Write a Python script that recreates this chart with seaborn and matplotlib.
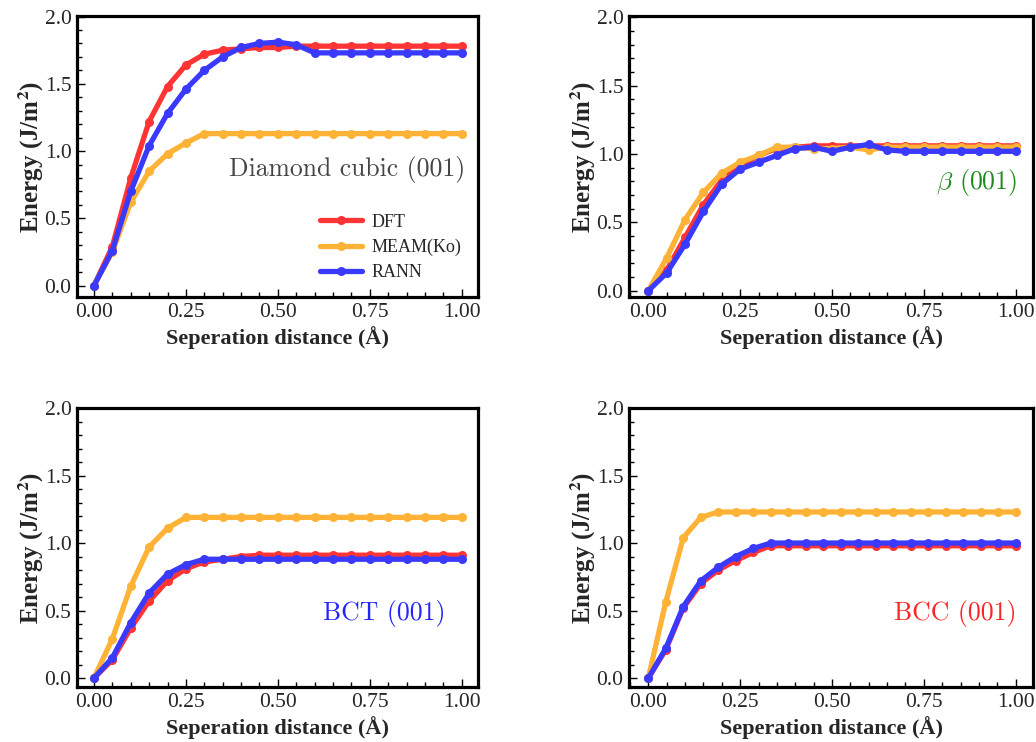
import numpy as np
import pandas as pd
import matplotlib
matplotlib.use("Agg")
import matplotlib.pyplot as plt
import seaborn as sns
from matplotlib.ticker import MultipleLocator, FormatStrFormatter

sns.set_theme(style="white")
plt.rcParams['font.family'] = ['Liberation Serif', 'DejaVu Serif']

# ---------------- data ----------------
models = ["DFT", "MEAM(Ko)", "RANN"]
colors = {"DFT": "#ff3434", "MEAM(Ko)": "#ffb336", "RANN": "#3a3aff"}

x21 = np.linspace(0, 1, 21)
x22 = np.linspace(0, 1, 22)

dc_dft = [0.00, 0.29, 0.80, 1.22, 1.48, 1.64, 1.72, 1.75, 1.76, 1.77, 1.77,
          1.78, 1.78, 1.78, 1.78, 1.78, 1.78, 1.78, 1.78, 1.78, 1.78]
dc_meam = [0.00, 0.25, 0.62, 0.85, 0.98, 1.06, 1.13, 1.13, 1.13, 1.13, 1.13,
           1.13, 1.13, 1.13, 1.13, 1.13, 1.13, 1.13, 1.13, 1.13, 1.13]
dc_rann = [0.00, 0.26, 0.70, 1.04, 1.28, 1.46, 1.60, 1.70, 1.77, 1.80, 1.81,
           1.79, 1.73, 1.73, 1.73, 1.73, 1.73, 1.73, 1.73, 1.73, 1.73]

beta_dft = [0.00, 0.15, 0.39, 0.63, 0.81, 0.91, 0.99, 1.04, 1.05, 1.06, 1.06,
            1.06, 1.06, 1.06, 1.06, 1.06, 1.06, 1.06, 1.06, 1.06, 1.06]
beta_meam = [0.00, 0.24, 0.52, 0.72, 0.86, 0.94, 0.99, 1.05, 1.05, 1.04, 1.04,
             1.05, 1.03, 1.05, 1.05, 1.05, 1.05, 1.05, 1.05, 1.05, 1.05]
beta_rann = [0.00, 0.13, 0.34, 0.58, 0.78, 0.89, 0.94, 0.99, 1.04, 1.05, 1.02,
             1.05, 1.07, 1.03, 1.02, 1.02, 1.02, 1.02, 1.02, 1.02, 1.02]

bct_dft = [0.00, 0.135, 0.37, 0.57, 0.72, 0.81, 0.86, 0.88, 0.90, 0.91, 0.91,
           0.91, 0.91, 0.91, 0.91, 0.91, 0.91, 0.91, 0.91, 0.91, 0.91]
bct_meam = [0.00, 0.29, 0.68, 0.97, 1.11, 1.19, 1.19, 1.19, 1.19, 1.19, 1.19,
            1.19, 1.19, 1.19, 1.19, 1.19, 1.19, 1.19, 1.19, 1.19, 1.19]
bct_rann = [0.00, 0.15, 0.41, 0.63, 0.77, 0.84, 0.88, 0.88, 0.88, 0.88, 0.88,
            0.88, 0.88, 0.88, 0.88, 0.88, 0.88, 0.88, 0.88, 0.88, 0.88]

bcc_dft = [0.00, 0.21, 0.52, 0.70, 0.80, 0.87, 0.93, 0.98, 0.98, 0.98, 0.98,
           0.98, 0.98, 0.98, 0.98, 0.98, 0.98, 0.98, 0.98, 0.98, 0.98, 0.98]
bcc_meam = [0.00, 0.565, 1.04, 1.19, 1.23, 1.23, 1.23, 1.23, 1.23, 1.23, 1.23,
            1.23, 1.23, 1.23, 1.23, 1.23, 1.23, 1.23, 1.23, 1.23, 1.23, 1.23]
bcc_rann = [0.00, 0.22, 0.53, 0.72, 0.82, 0.90, 0.96, 1.00, 1.00, 1.00, 1.00,
            1.00, 1.00, 1.00, 1.00, 1.00, 1.00, 1.00, 1.00, 1.00, 1.00, 1.00]

xticks = [0.00, 0.25, 0.50, 0.75, 1.00]
yticks = [0.0, 0.5, 1.0, 1.5, 2.0]

panels = [
    dict(x=x21, series=[dc_dft, dc_meam, dc_rann], title="Diamond cubic (001)",
         tcolor="#454545", box=(77, 16, 478, 297), xlim=(-0.046, 1.044),
         ylim=(-0.084, 2.004), txy=(0.967, 0.452), legend=True),
    dict(x=x21, series=[beta_dft, beta_meam, beta_rann], title=r"$\beta$ (001)",
         tcolor="#1f8a1f", box=(629, 16, 1033, 297), xlim=(-0.0525, 1.047),
         ylim=(-0.046, 2.01), txy=(0.960, 0.409), legend=False),
    dict(x=x21, series=[bct_dft, bct_meam, bct_rann], title="BCT (001)",
         tcolor="#2424ff", box=(77, 408, 478, 687), xlim=(-0.046, 1.044),
         ylim=(-0.066, 2.0), txy=(0.918, 0.265), legend=False),
    dict(x=x22, series=[bcc_dft, bcc_meam, bcc_rann], title="BCC (001)",
         tcolor="#ff2424", box=(629, 408, 1033, 687), xlim=(-0.0525, 1.047),
         ylim=(-0.066, 2.0), txy=(0.960, 0.265), legend=False),
]

W, H = 1036, 742
fig = plt.figure(figsize=(W / 100, H / 100), dpi=100)

for p in panels:
    l, t, r, b = p["box"]
    ax = fig.add_axes([l / W, 1 - b / H, (r - l) / W, (b - t) / H])
    for name, vals in zip(models, p["series"]):
        df = pd.DataFrame({"d": p["x"], "E": vals})
        sns.lineplot(data=df, x="d", y="E", ax=ax, color=colors[name],
                     marker="o", markersize=6.5, markeredgewidth=0,
                     linewidth=3.8, label=name if p["legend"] else None,
                     legend=p["legend"])
    ax.set_xlim(*p["xlim"])
    ax.set_ylim(*p["ylim"])
    ax.set_xticks(xticks)
    ax.set_yticks(yticks)
    ax.xaxis.set_major_formatter(FormatStrFormatter("%.2f"))
    ax.yaxis.set_major_formatter(FormatStrFormatter("%.1f"))
    ax.xaxis.set_minor_locator(MultipleLocator(0.05))
    ax.yaxis.set_minor_locator(MultipleLocator(0.1))
    ax.tick_params(which="both", direction="in", top=False, right=False,
                   bottom=True, left=True, color="black", width=1.0)
    ax.tick_params(which="major", length=6, labelsize=15.5, pad=4)
    ax.tick_params(which="minor", length=3.5)
    for sp in ax.spines.values():
        sp.set_visible(True)
        sp.set_color("black")
        sp.set_linewidth(2.3)
    ax.set_facecolor("white")
    ax.grid(False)

    ax.set_xlabel("Seperation distance (Å)", fontsize=16, fontweight="bold",
                  va="center")
    ax.set_ylabel(r"Energy (J/m$^{\mathbf{2}}$)", fontsize=18,
                  fontweight="bold", va="center", math_fontfamily="stix")
    ax.xaxis.set_label_coords(0.5, -(41 / (b - t)))
    ax.yaxis.set_label_coords(-(46 / (r - l)), 0.5)

    ax.text(p["txy"][0], p["txy"][1], p["title"], transform=ax.transAxes,
            ha="right", va="center", fontsize=18.5, color=p["tcolor"],
            fontfamily="cmr10", math_fontfamily="cm")

    if p["legend"]:
        ax.legend(loc="upper left", bbox_to_anchor=(0.606, 0.297),
                  frameon=False, fontsize=13, borderpad=0, borderaxespad=0,
                  handlelength=2.3, handletextpad=0.55, labelspacing=0.45)

fig.savefig("out.png", dpi=100, facecolor="white")
